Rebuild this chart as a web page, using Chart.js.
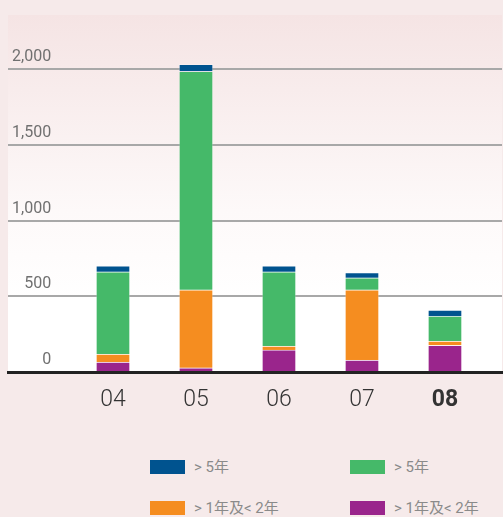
<!DOCTYPE html>
<html>
<head>
<meta charset="utf-8">
<script src="https://cdn.jsdelivr.net/npm/chart.js@4"></script>
<style>
    html, body { margin: 0; padding: 0; }
    body { width: 503px; height: 517px; background: #f6eaea; position: relative; overflow: hidden; font-family: Roboto, "Noto Sans CJK SC", sans-serif; }
    #wrap { position: absolute; left: 0; top: 0; width: 503px; height: 430px; }
    .legend-item { position: absolute; display: flex; align-items: center; gap: 9px; font-size: 15px; line-height: 14px; color: #8a8a8a; }
    .legend-item i { display: inline-block; width: 35px; height: 14px; }
</style>
</head>
<body>
<div id="wrap"><canvas id="chart"></canvas></div>
<div id="legend"></div>
<script>
// --- Data ---
const years = ["04", "05", "06", "07", "08"];
const seriesLabels = ["> 1年及< 2年", "> 1年及< 2年", "> 5年", "> 5年"];
const seriesColors = ["#9a258c", "#f58d20", "#45b969", "#00538f"];
const purpleValues = [66, 28, 146, 79, 177];
const orangeValues = [53, 516, 26, 464, 28];
const greenValues = [543, 1444, 490, 80, 164];
const blueValues = [40, 46, 40, 35, 40];
const yTicks = [0, 500, 1000, 1500, 2000];

const seriesValues = [purpleValues, orangeValues, greenValues, blueValues];

// --- Legend (top row: blue, green; bottom row: orange, purple) ---
const legendSpots = [
    { idx: 3, left: 150, top: 460 },
    { idx: 2, left: 350, top: 460 },
    { idx: 1, left: 150, top: 501 },
    { idx: 0, left: 350, top: 501 }
];
document.getElementById("legend").innerHTML = legendSpots.map(s => `
    <div class="legend-item" style="left:${s.left}px;top:${s.top}px;">
        <i style="background:${seriesColors[s.idx]}"></i><span>${seriesLabels[s.idx]}</span>
    </div>`).join("");

// --- Panel gradient behind the plot ---
const panelBg = {
    id: "panelBg",
    beforeDraw(chart) {
        const { ctx, chartArea: a } = chart;
        const g = ctx.createLinearGradient(0, a.top, 0, a.bottom);
        g.addColorStop(0, "#f5e4e4");
        g.addColorStop(0.55, "#fdf9f9");
        g.addColorStop(0.8, "#ffffff");
        g.addColorStop(1, "#ffffff");
        ctx.save();
        ctx.fillStyle = g;
        ctx.fillRect(a.left, a.top, a.right - a.left, a.bottom - a.top);
        ctx.restore();
    }
};

const datasets = seriesValues.map((vals, i) => ({
    label: seriesLabels[i],
    data: vals.map((v, j) => ({ x: j, y: v })),
    backgroundColor: seriesColors[i],
    borderColor: "rgba(255,255,255,0.22)",
    borderWidth: 1,
    barThickness: 34
}));

new Chart(document.getElementById("chart"), {
    type: "bar",
    data: { datasets },
    options: {
        responsive: true,
        maintainAspectRatio: false,
        animation: false,
        layout: { padding: { left: 8, right: 1, top: 15, bottom: 18 } },
        plugins: { legend: { display: false }, tooltip: { enabled: false } },
        scales: {
            x: {
                type: "linear",
                stacked: true,
                offset: false,
                min: -1.265,
                max: 4.687,
                z: 1,
                afterBuildTicks: scale => { scale.ticks = years.map((_, i) => ({ value: i })); },
                afterFit: scale => { scale.height = 40; scale.paddingLeft = 0; scale.paddingRight = 0; },
                grid: { display: false, drawTicks: false, offset: false },
                border: { display: true, color: "#222", width: 3 },
                ticks: {
                    autoSkip: false,
                    maxRotation: 0,
                    padding: 14,
                    color: "#333",
                    font: ctx => ({ family: "Roboto", size: 23, weight: ctx.index === years.length - 1 ? "bold" : "300" }),
                    callback: v => years[v]
                }
            },
            y: {
                stacked: true,
                min: 0,
                max: 2360,
                afterBuildTicks: scale => { scale.ticks = yTicks.map(v => ({ value: v })); },
                afterFit: scale => { scale.width = 0; scale.paddingTop = 0; scale.paddingBottom = 0; },
                grid: {
                    drawTicks: false,
                    color: ctx => ctx.tick && ctx.tick.value === 0 ? "rgba(0,0,0,0)" : "#a8a8a8",
                    lineWidth: 2
                },
                border: { display: false },
                ticks: {
                    mirror: true,
                    crossAlign: "far",
                    padding: 4,
                    color: "#707070",
                    font: { family: "Roboto", size: 16, lineHeight: 1.5 },
                    callback: v => [v.toLocaleString("en-US"), ""]
                }
            }
        }
    },
    plugins: [panelBg]
});
</script>
</body>
</html>
